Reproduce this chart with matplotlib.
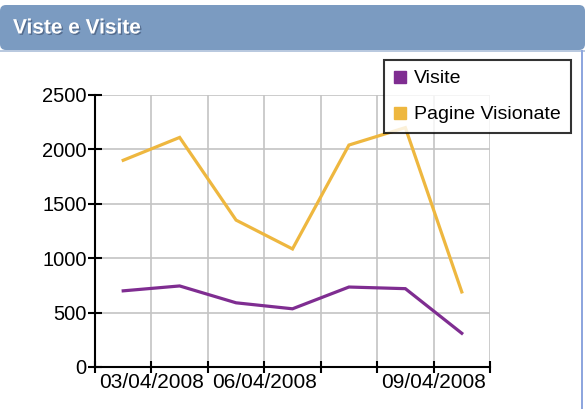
import matplotlib.pyplot as plt
import matplotlib.patheffects as pe
from matplotlib.patches import FancyBboxPatch, Rectangle
from matplotlib.lines import Line2D

plt.rcParams["font.family"] = ["Liberation Sans", "DejaVu Sans"]

# data (one point per day, 7 days)
days = ["03/04", "04/04", "05/04", "06/04", "07/04", "08/04", "09/04"]
visite = [700, 745, 590, 535, 735, 720, 310]
pagine = [1900, 2110, 1350, 1085, 2040, 2200, 690]

tick_labels = {1: "03/04/2008", 3: "06/04/2008", 6: "09/04/2008"}
y_ticks = [0, 500, 1000, 1500, 2000, 2500]

col_visite = "#7f2d91"
col_pagine = "#eeb73f"

fig = plt.figure(figsize=(5.85, 4.09), dpi=100)

# header bar
hdr = FancyBboxPatch((0.0, 409 - 50), 585, 45, boxstyle="round,pad=0,rounding_size=6",
                     transform=None, facecolor="#7b9bc1", edgecolor="none")
fig.patches.append(hdr)
fig.patches.append(Rectangle((0, 409 - 52), 585, 2, transform=None,
                             facecolor="#b9c9df", edgecolor="none"))
fig.patches.append(Rectangle((581, 0), 2, 409 - 50, transform=None,
                             facecolor="#8ea6de", edgecolor="none"))
fig.text(13 / 585, 1 - 28 / 409, "Viste e Visite", color="white", fontsize=15,
         fontweight="bold", va="center", ha="left",
         path_effects=[pe.withSimplePatchShadow(offset=(1, -1), shadow_rgbFace="#3c4f6e",
                                               alpha=0.6)])

ax = fig.add_axes([95 / 585, 1 - 367 / 409, 395 / 585, 272 / 409])
x = list(range(len(days)))
ax.plot(x, pagine, color=col_pagine, lw=2.3, solid_joinstyle="miter", zorder=3)
ax.plot(x, visite, color=col_visite, lw=2.3, solid_joinstyle="miter", zorder=3)

ax.set_ylim(0, 2500)
bounds = [i - 0.5 for i in range(len(days) + 1)]
ax.set_xlim(bounds[0], bounds[-1])
ax.set_xticks(bounds)
ax.set_xticklabels([tick_labels.get(i, "") for i in range(len(bounds))])
ax.set_yticks(y_ticks)
ax.set_yticklabels([str(v) for v in y_ticks])
ax.grid(True, color="#c4c4c4", lw=1.2, zorder=0)
ax.set_axisbelow(True)
for s in ["top", "right"]:
    ax.spines[s].set_visible(False)
for s in ["left", "bottom"]:
    ax.spines[s].set_color("black")
    ax.spines[s].set_linewidth(1.5)
ax.tick_params(axis="y", direction="inout", length=10, width=1.5, labelsize=14.5, pad=1)
ax.tick_params(axis="x", direction="inout", length=9, width=1.5, labelsize=15, pad=0)

handles = [Line2D([], [], marker="s", ls="none", color=col_visite, markersize=9),
           Line2D([], [], marker="s", ls="none", color=col_pagine, markersize=9)]
leg = fig.legend(handles, ["Visite", "Pagine Visionate"], loc="upper left",
                 bbox_to_anchor=(384 / 585, 1 - 60 / 409), fontsize=14, frameon=True,
                 fancybox=False, handlelength=0.6, handletextpad=0.45,
                 borderpad=0.5, labelspacing=0.95, borderaxespad=0)
leg.get_frame().set_edgecolor("black")
leg.get_frame().set_linewidth(1.5)

fig.savefig("out.png", dpi=100)
